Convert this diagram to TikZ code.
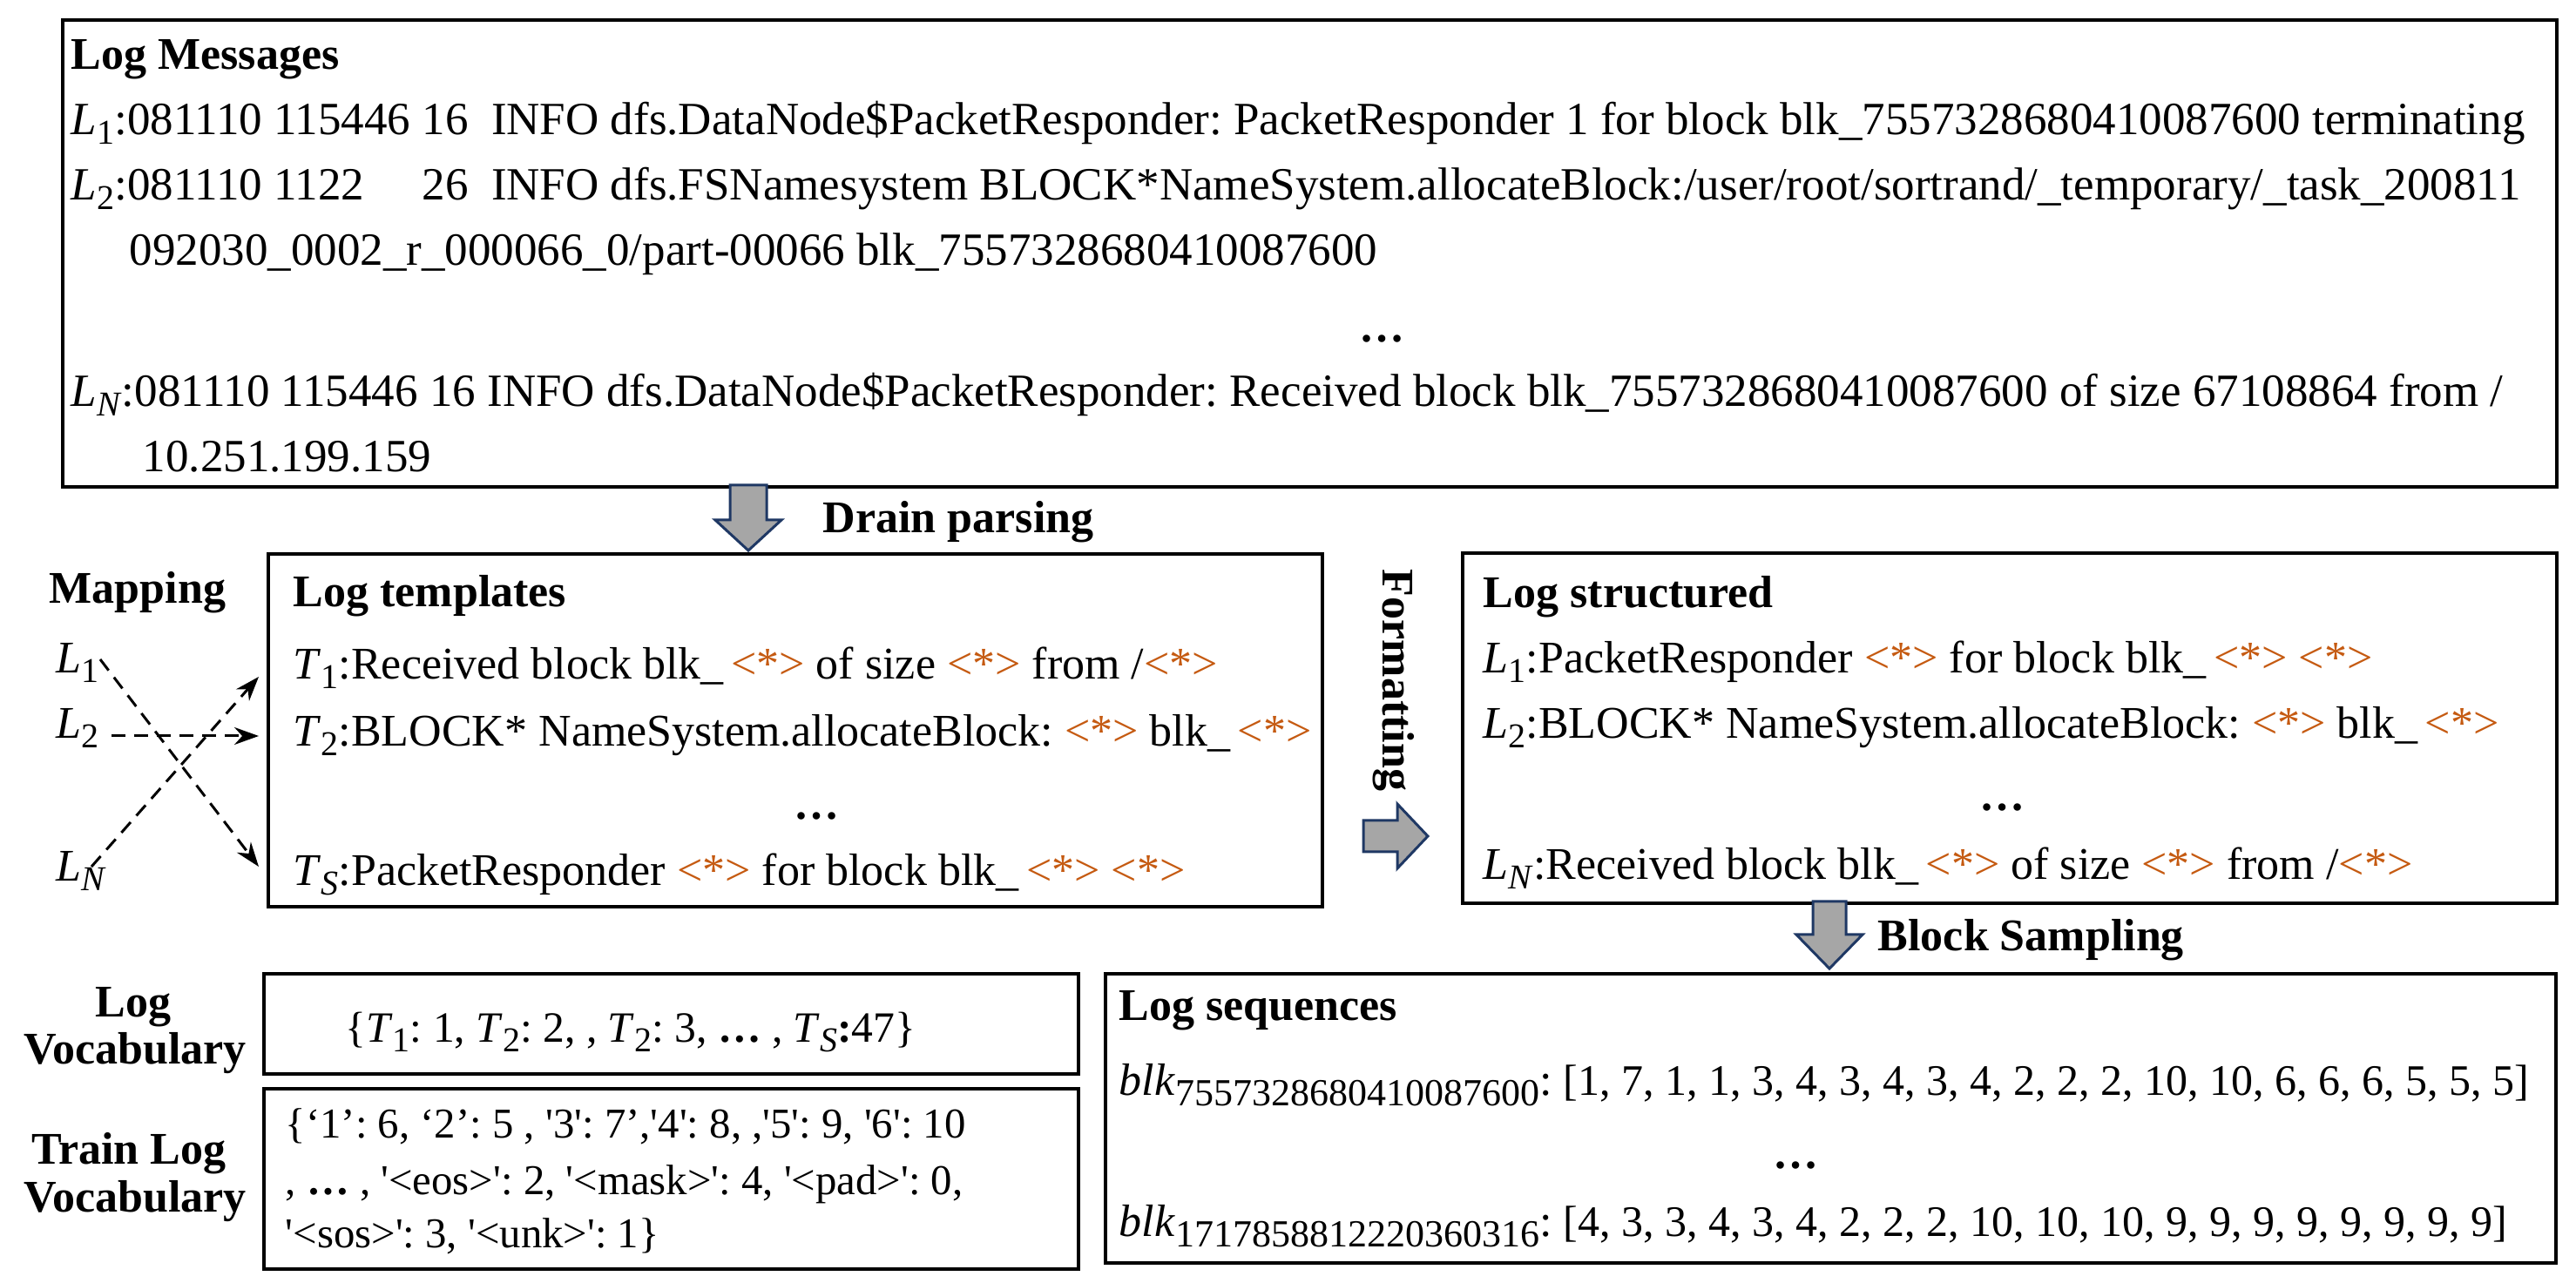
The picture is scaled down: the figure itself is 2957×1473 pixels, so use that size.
\documentclass[tikz,border=0pt]{standalone}
\usepackage{fontspec}
\setmainfont{Liberation Serif}
\usetikzlibrary{arrows.meta}
\definecolor{orng}{HTML}{C55A11}
\definecolor{agray}{HTML}{A6A6A6}
\definecolor{anavy}{HTML}{1F3864}
\newcommand\sbs[1]{\raisebox{-2.6pt}{\fontsize{10}{12}\selectfont #1}}
\newcommand\myL[1]{\textit{L}\sbs{#1}}
\newcommand\myT[1]{\textit{T}\sbs{#1}}
\newcommand\wc{{\color{orng}<*>}}
\newcommand\sq{\textquotesingle}
\frenchspacing
\begin{document}
\begin{tikzpicture}[x=0.25pt,y=-0.25pt,
  box/.style={draw, line width=1pt, inner sep=0pt, anchor=north west},
  txt/.style={anchor=base west, inner sep=0pt, font=\fontsize{13}{15}\selectfont},
  ttxt/.style={anchor=base west, inner sep=0pt, font=\fontsize{13.25}{15}\selectfont},
  vtxt/.style={anchor=base west, inner sep=0pt, font=\fontsize{12.2}{15}\selectfont},
  btxt/.style={anchor=base west, inner sep=0pt, font=\fontsize{13}{15}\selectfont\bfseries},
  ctr/.style={anchor=base, inner sep=0pt, font=\fontsize{13}{15}\selectfont\bfseries},
  dotsnode/.style={anchor=center, inner sep=0pt, font=\fontsize{13}{15}\selectfont\bfseries},
  blockarrow/.style={fill=agray, draw=anavy, line width=0.75pt, line join=miter},
  maparrow/.style={-{Stealth[length=7pt,width=5pt]}, dash pattern=on 4pt off 2.5pt, line width=0.75pt}]
\useasboundingbox (0,0) rectangle (2957,1473);

% boxes
\node[box, minimum width=715.75pt, minimum height=134pt] (msgs) at (70,21) {};
\node[box, minimum width=302.5pt, minimum height=101.25pt] (tmpl) at (306,634) {};
\node[box, minimum width=314pt, minimum height=100.5pt] (strc) at (1677,633) {};
\node[box, minimum width=233.75pt, minimum height=28.75pt] (voc) at (301,1116) {};
\node[box, minimum width=233.75pt, minimum height=51.75pt] (tvoc) at (301,1248) {};
\node[box, minimum width=416.25pt, minimum height=83pt] (seqs) at (1267,1116) {};

% log messages
\node[btxt] (lmh) at (81,80) {Log Messages};
\node[ttxt] (lm1) at (81,155) {\myL{1}:081110 115446 16\ \ INFO dfs.DataNode\$PacketResponder: PacketResponder 1 for block blk\_7557328680410087600 terminating};
\node[ttxt] (lm2) at (81,230) {\myL{2}:081110 \rlap{1122}\phantom{115446} 26\ \ INFO dfs.FSNamesystem BLOCK*NameSystem.allocateBlock:/user/root/sortrand/\_temporary/\_task\_200811};
\node[ttxt] (lm2b) at (148,305) {092030\_0002\_r\_000066\_0/part-00066 blk\_7557328680410087600};
\node[dotsnode] (lmd) at (1586,389) {…};
\node[ttxt] (lmn) at (81,467) {\myL{\textit{N}}:081110 115446 16 INFO dfs.DataNode\$PacketResponder: Received block blk\_7557328680410087600 of size 67108864 from /};
\node[ttxt] (lmnb) at (163,542) {10.251.199.159};

% drain parsing
\draw[blockarrow] (838,557) -- (838,597) -- (821,597) -- (859,632) -- (897,597) -- (880,597) -- (880,557) -- cycle;
\node[btxt] (drain) at (944,612) {Drain parsing};

% mapping
\node[btxt] (map) at (56,693) {Mapping};
\node[txt] (mL1) at (64,773) {\myL{1}};
\node[txt] (mL2) at (64,848) {\myL{2}};
\node[txt] (mLN) at (64,1012) {\myL{\textit{N}}};
\coordinate (a1s) at (115,757);
\coordinate (a1e) at (297,995);
\coordinate (a2s) at (128,845);
\coordinate (a2e) at (297,845);
\coordinate (a3s) at (105,995);
\coordinate (a3e) at (297,777);
\draw[maparrow] (a1s) -- (a1e);
\draw[maparrow] (a2s) -- (a2e);
\draw[maparrow] (a3s) -- (a3e);

% templates
\node[btxt] (tt) at (336,697) {Log templates};
\node[txt] (t1) at (336,780) {\myT{1}:Received block blk\_\,\wc{} of size \wc{} from /\wc};
\node[txt] (t2) at (336,857) {\myT{2}:BLOCK* NameSystem.allocateBlock: \wc{} blk\_\,\wc};
\node[dotsnode] (td) at (937,937) {…};
\node[txt] (ts) at (336,1017) {\myT{\textit{S}}:PacketResponder \wc{} for block blk\_\,\wc{} \wc};

% formatting
\node[anchor=center, inner sep=0pt, rotate=-90, font=\fontsize{13}{15}\selectfont\bfseries] (fmt) at (1600,781) {Formatting};
\draw[blockarrow] (1565,942) -- (1604,942) -- (1604,923) -- (1639,960) -- (1604,997) -- (1604,978) -- (1565,978) -- cycle;

% structured
\node[btxt] (st) at (1702,698) {Log structured};
\node[txt] (s1) at (1702,773) {\myL{1}:PacketResponder \wc{} for block blk\_\,\wc{} \wc};
\node[txt] (s2) at (1702,848) {\myL{2}:BLOCK* NameSystem.allocateBlock: \wc{} blk\_\,\wc};
\node[dotsnode] (sd) at (2298,927) {…};
\node[txt] (sn) at (1702,1010) {\myL{\textit{N}}:Received block blk\_\,\wc{} of size \wc{} from /\wc};

% block sampling
\draw[blockarrow] (2081,1035) -- (2081,1073) -- (2062,1073) -- (2100,1112) -- (2138,1073) -- (2119,1073) -- (2119,1035) -- cycle;
\node[btxt] (bs) at (2155,1092) {Block Sampling};

% vocab labels
\node[ctr] (vl1) at (153,1168) {Log};
\node[ctr] (vl2) at (155,1222) {Vocabulary};
\node[ctr] (tl1) at (148,1337) {Train Log};
\node[ctr] (tl2) at (155,1392) {Vocabulary};

% vocab contents
\node[anchor=base, inner sep=0pt, font=\fontsize{12.4}{15}\selectfont] (vt) at (724,1197) {\{\myT{1}: 1, \myT{2}: 2, , \myT{2}: 3, \textbf{…} , \myT{\textit{S}}\textbf{:}47\}};
\node[vtxt] (tv1) at (327,1307) {\{‘1’: 6, ‘2’: 5 , \sq3\sq: 7’,\sq4\sq: 8, ,\sq5\sq: 9, \sq6\sq: 10};
\node[vtxt] (tv2) at (327,1372) {, \textbf{…} , \sq<eos>\sq: 2, \sq<mask>\sq: 4, \sq<pad>\sq: 0,};
\node[vtxt] (tv3) at (327,1433) {\sq<sos>\sq: 3, \sq<unk>\sq: 1\}};

% sequences
\node[btxt] (sqh) at (1284,1172) {Log sequences};
\node[txt] (sq1) at (1284,1258) {\textit{blk}\raisebox{-3pt}{\fontsize{11}{12}\selectfont 7557328680410087600}: {\fontsize{12.5}{15}\selectfont[1, 7, 1, 1, 3, 4, 3, 4, 3, 4, 2, 2, 2, 10, 10, 6, 6, 6, 5, 5, 5]}};
\node[dotsnode] (sqd) at (2061,1338) {…};
\node[txt] (sq2) at (1284,1420) {\textit{blk}\raisebox{-3pt}{\fontsize{11}{12}\selectfont 1717858812220360316}: {\fontsize{12.5}{15}\selectfont[4, 3, 3, 4, 3, 4, 2, 2, 2, 10, 10, 10, 9, 9, 9, 9, 9, 9, 9, 9]}};
\end{tikzpicture}
\end{document}
